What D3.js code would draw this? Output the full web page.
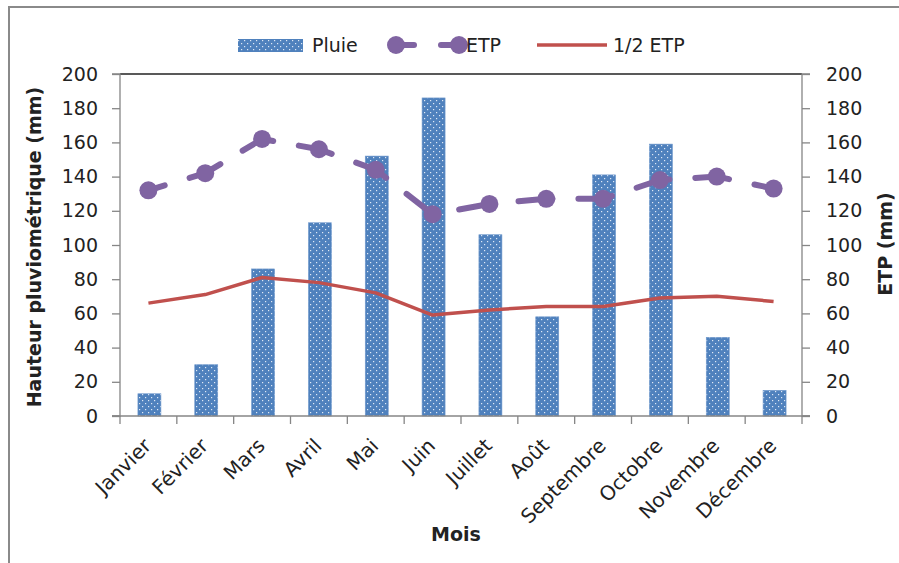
<!DOCTYPE html>
<html>
<head>
<meta charset="utf-8">
<script src="https://cdn.jsdelivr.net/npm/d3@7/dist/d3.min.js"></script>
<style>
  html, body { margin: 0; padding: 0; background: #fff; }
  svg { display: block; }
  text { font-family: "DejaVu Sans", sans-serif; fill: #222; }
</style>
</head>
<body>
<svg id="chart" width="899" height="563"></svg>
<script>
// Monthly rainfall and evapotranspiration (mm)
const months = ["Janvier", "Février", "Mars", "Avril", "Mai", "Juin", "Juillet", "Août", "Septembre", "Octobre", "Novembre", "Décembre"];
const pluie = [13, 30, 86, 113, 152, 186, 106, 58, 141, 159, 46, 15];
const etp = [132, 142, 162, 156, 144, 118, 124, 127, 127, 138, 140, 133];
const demiEtp = [66, 71, 81, 78, 72, 59, 62, 64, 64, 69, 70, 67];
const yTicks = [0, 20, 40, 60, 80, 100, 120, 140, 160, 180, 200];

const svg = d3.select("#chart");
const plot = { left: 120, right: 802, top: 74, bottom: 416 };

const COL_BAR = "#4F81BD", COL_ETP = "#8064A2", COL_HALF = "#C0504D", COL_AXIS = "#868686";

// Dotted fill for the rainfall bars
const defs = svg.append("defs");
const pat = defs.append("pattern").attr("id", "dots")
  .attr("patternUnits", "userSpaceOnUse").attr("width", 6).attr("height", 6);
pat.append("rect").attr("width", 6).attr("height", 6).attr("fill", COL_BAR);
pat.append("rect").attr("x", 1).attr("y", 1).attr("width", 1.2).attr("height", 1.2).attr("fill", "#dfe8f5");
pat.append("rect").attr("x", 4).attr("y", 4).attr("width", 1.2).attr("height", 1.2).attr("fill", "#dfe8f5");

// Outer frame (left and top edges visible)
svg.append("rect").attr("x", 9).attr("y", 7).attr("width", 1000).attr("height", 1000)
  .attr("fill", "none").attr("stroke", "#8a8a8a").attr("stroke-width", 2);

const x = d3.scaleBand().domain(months).range([plot.left, plot.right]).paddingInner(0).paddingOuter(0);
const yL = d3.scaleLinear().domain([0, 200]).range([plot.bottom, plot.top]);
const yR = d3.scaleLinear().domain([0, 200]).range([plot.bottom, plot.top]);

// Top border of the plot area
svg.append("line").attr("x1", plot.left).attr("x2", plot.right)
  .attr("y1", plot.top).attr("y2", plot.top)
  .attr("stroke", "#222").attr("stroke-width", 1.5);

// Left axis
const axL = svg.append("g").attr("transform", `translate(${plot.left},0)`)
  .call(d3.axisLeft(yL).tickValues(yTicks).tickSize(8).tickPadding(14));
// Right axis
const axR = svg.append("g").attr("transform", `translate(${plot.right},0)`)
  .call(d3.axisRight(yR).tickValues(yTicks).tickSize(8).tickPadding(16));
[axL, axR].forEach(g => {
  g.select(".domain").attr("stroke", COL_AXIS).attr("stroke-width", 1.3);
  g.selectAll(".tick line").attr("stroke", COL_AXIS).attr("stroke-width", 1.3);
  g.selectAll(".tick text").style("font-family", "DejaVu Sans, sans-serif")
    .style("font-size", "19px").attr("fill", "#222");
});
axL.select(".domain").attr("d", `M-8,${plot.top}H0V${plot.bottom}H-8`);
axR.select(".domain").attr("d", `M8,${plot.top}H0V${plot.bottom}H8`);

// Bars
const barW = 23;
svg.append("g").selectAll("rect").data(months).join("rect")
  .attr("x", (d) => x(d) + x.bandwidth() / 2 - barW / 2 + 1)
  .attr("width", barW)
  .attr("y", (d, i) => yL(pluie[i]))
  .attr("height", (d, i) => yL(0) - yL(pluie[i]))
  .attr("fill", "url(#dots)")
  .attr("stroke", "#6f98cc").attr("stroke-width", 0.6);

// X axis
const axX = svg.append("g").attr("transform", `translate(0,${plot.bottom})`);
axX.append("line").attr("x1", plot.left - 8).attr("x2", plot.right + 8)
  .attr("stroke", COL_AXIS).attr("stroke-width", 1.3);
const boundaries = months.map(m => x(m)).concat([plot.right]);
axX.selectAll("line.tk").data(boundaries).join("line").attr("class", "tk")
  .attr("x1", d => d).attr("x2", d => d).attr("y1", 0).attr("y2", 8)
  .attr("stroke", COL_AXIS).attr("stroke-width", 1.3);
axX.selectAll("text").data(months).join("text")
  .attr("transform", d => `translate(${x(d) + x.bandwidth() / 2 + 4},${31}) rotate(-45)`)
  .attr("text-anchor", "end")
  .style("font-size", "20px")
  .text(d => d);

// Half ETP line
const cx = (d, i) => x(months[i]) + x.bandwidth() / 2;
svg.append("path").datum(demiEtp)
  .attr("d", d3.line().x(cx).y(d => yR(d)))
  .attr("fill", "none").attr("stroke", COL_HALF).attr("stroke-width", 3.5)
  .attr("stroke-linejoin", "round");

// ETP dashed line with markers
svg.append("path").datum(etp)
  .attr("d", d3.line().x(cx).y(d => yR(d)))
  .attr("fill", "none").attr("stroke", COL_ETP).attr("stroke-width", 6)
  .attr("stroke-linecap", "round").attr("stroke-linejoin", "round")
  .attr("stroke-dasharray", "34,26").attr("stroke-dashoffset", 17);
svg.append("g").selectAll("circle").data(etp).join("circle")
  .attr("cx", cx).attr("cy", d => yR(d)).attr("r", 9).attr("fill", COL_ETP);

// Axis titles
svg.append("text").attr("transform", `translate(41,${(plot.top + plot.bottom) / 2 + 2}) rotate(-90)`)
  .attr("text-anchor", "middle").style("font-size", "19px").style("font-weight", "bold")
  .text("Hauteur pluviométrique (mm)");
svg.append("text").attr("transform", `translate(892,244) rotate(-90)`)
  .attr("text-anchor", "middle").style("font-size", "19px").style("font-weight", "bold")
  .text("ETP (mm)");
svg.append("text").attr("x", 456).attr("y", 541).attr("text-anchor", "middle")
  .style("font-size", "19px").style("font-weight", "bold").text("Mois");

// Legend
const lg = svg.append("g");
const ly = 45;
lg.append("rect").attr("x", 238).attr("y", 39).attr("width", 65).attr("height", 13).attr("fill", "url(#dots)");
lg.append("text").attr("x", 312).attr("y", ly + 7).style("font-size", "19px").text("Pluie");
lg.append("line").attr("x1", 396).attr("x2", 414).attr("y1", ly).attr("y2", ly)
  .attr("stroke", COL_ETP).attr("stroke-width", 6).attr("stroke-linecap", "round");
lg.append("line").attr("x1", 441).attr("x2", 459).attr("y1", ly).attr("y2", ly)
  .attr("stroke", COL_ETP).attr("stroke-width", 6).attr("stroke-linecap", "round");
lg.append("circle").attr("cx", 396).attr("cy", ly).attr("r", 9).attr("fill", COL_ETP);
lg.append("circle").attr("cx", 459).attr("cy", ly).attr("r", 9).attr("fill", COL_ETP);
lg.append("text").attr("x", 466).attr("y", ly + 7).style("font-size", "19px").text("ETP");
lg.append("line").attr("x1", 537).attr("x2", 607).attr("y1", ly).attr("y2", ly)
  .attr("stroke", COL_HALF).attr("stroke-width", 3.5);
lg.append("text").attr("x", 613).attr("y", ly + 7).style("font-size", "19px").text("1/2 ETP");
</script>
</body>
</html>
